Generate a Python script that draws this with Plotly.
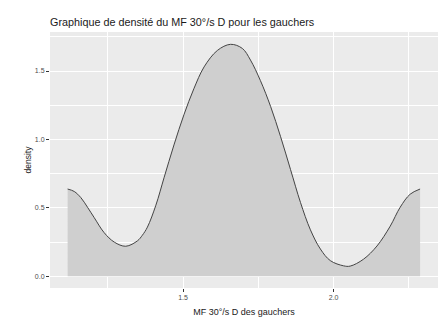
import plotly.graph_objects as go

# courbe de densité (x, densité)
mf_x = [1.117, 1.139, 1.161, 1.183, 1.205, 1.238, 1.272, 1.310, 1.349, 1.365, 1.382,
        1.410, 1.437, 1.470, 1.503, 1.536, 1.570, 1.614, 1.658, 1.697, 1.724, 1.757,
        1.791, 1.824, 1.857, 1.890, 1.923, 1.956, 1.989, 2.033, 2.055, 2.099, 2.144,
        2.188, 2.221, 2.254, 2.287]
densite = [0.638, 0.620, 0.575, 0.505, 0.430, 0.320, 0.250, 0.220, 0.260, 0.300, 0.360,
           0.520, 0.720, 0.960, 1.180, 1.370, 1.530, 1.650, 1.695, 1.665, 1.580, 1.430,
           1.240, 1.020, 0.780, 0.540, 0.340, 0.200, 0.115, 0.077, 0.075, 0.125, 0.222,
           0.367, 0.505, 0.600, 0.638]

x_ticks = [1.5, 2.0]
y_ticks = [0.0, 0.5, 1.0, 1.5]

fig = go.Figure()
fig.add_trace(go.Scatter(x=mf_x, y=densite, mode='lines', fill='tozeroy',
                         fillcolor='#cfcfcf', line=dict(color='#444444', width=1, shape='spline'),
                         showlegend=False, hoverinfo='skip'))

# la page ajoute 8px de marge au body : figure un peu plus petite
fig.update_layout(
    width=438, height=319,
    margin=dict(l=42, r=8, t=24, b=39),
    paper_bgcolor='white', plot_bgcolor='#EBEBEB',
    font=dict(family='Liberation Sans, Arial', color='#4D4D4D'),
    title=dict(text='Graphique de densité du MF 30°/s D pour les gauchers',
               font=dict(size=10.8, color='#1a1a1a'), xref='paper', x=0, xanchor='left',
               yref='container', y=0.956, yanchor='middle'),
)
fig.update_xaxes(range=[1.0585, 2.3465], tickvals=x_ticks, ticktext=['1.5', '2.0'],
                 showgrid=True, gridcolor='white', gridwidth=1.1, zeroline=False, automargin=True,
                 ticks='outside', ticklen=3, tickcolor='#333333', tickfont=dict(size=7, color='#4D4D4D'),
                 minor=dict(tickvals=[1.25, 1.75, 2.25], showgrid=True, gridcolor='white', gridwidth=0.5, ticks=''),
                 title=dict(text='MF 30°/s D des gauchers', font=dict(size=9, color='#1a1a1a'), standoff=8))
fig.update_yaxes(range=[-0.085, 1.785], tickvals=y_ticks, ticktext=['0.0', '0.5', '1.0', '1.5'],
                 showgrid=True, gridcolor='white', gridwidth=1.1, zeroline=False, automargin=False,
                 ticks='outside', ticklen=3, tickcolor='#333333', tickfont=dict(size=7, color='#4D4D4D'),
                 minor=dict(tickvals=[0.25, 0.75, 1.25, 1.75], showgrid=True, gridcolor='white', gridwidth=0.5, ticks=''),
                 title=dict(text='density', font=dict(size=8.5, color='#1a1a1a'), standoff=1))

fig.write_html("out.html")
